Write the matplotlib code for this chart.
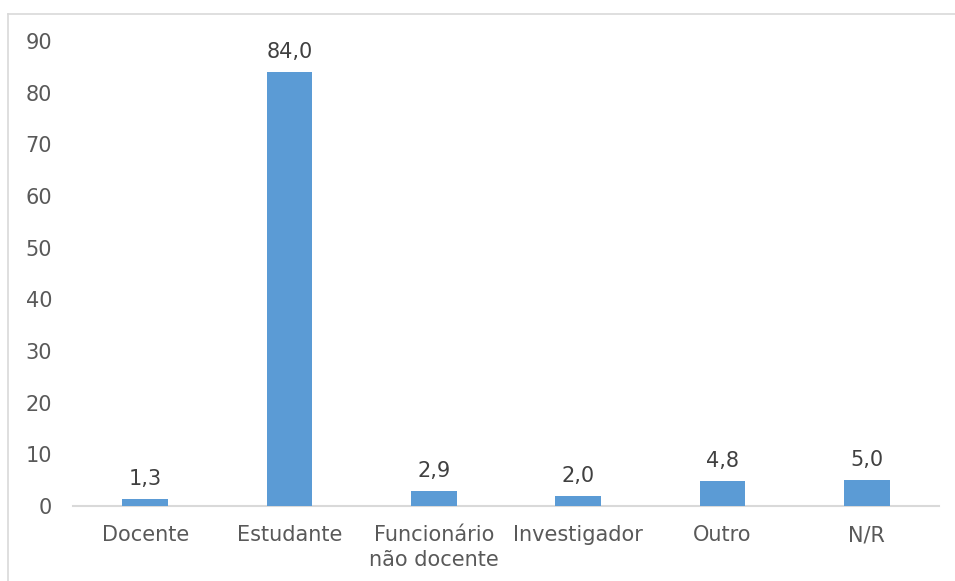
import matplotlib
matplotlib.use("Agg")
import matplotlib.pyplot as plt
from matplotlib.lines import Line2D

categories = ["Docente", "Estudante", "Funcionário\nnão docente", "Investigador", "Outro", "N/R"]
values = [1.3, 84.0, 2.9, 2.0, 4.8, 5.0]
yticks = [0, 10, 20, 30, 40, 50, 60, 70, 80, 90]

plt.rcParams['font.family'] = ['DejaVu Sans']
W, H = 955, 581
fig = plt.figure(figsize=(W / 100, H / 100), dpi=100)
text_color = "#595959"
fs = 15

# axes in pixel coordinates
x0, x1 = 73, 939
y_zero, y_top = 506, 41
ax = fig.add_axes([x0 / W, 1 - y_zero / H, (x1 - x0) / W, (y_zero - y_top) / H])

xs = list(range(len(categories)))
ax.bar(xs, values, width=0.315, color="#5B9BD5", zorder=3)
for x, v in zip(xs, values):
    ax.annotate(f"{v:.1f}".replace(".", ","), xy=(x, v), xytext=(0, 10),
                textcoords="offset points", ha="center", va="baseline",
                fontsize=fs, color="#404040")

ax.set_xlim(-0.5, len(categories) - 0.5)
ax.set_ylim(0, 90)
ax.set_yticks(yticks)
ax.set_yticklabels([str(t) for t in yticks], fontsize=fs, color=text_color)
ax.set_xticks(xs)
ax.set_xticklabels(categories, fontsize=fs, color=text_color, linespacing=1.3)
ax.tick_params(axis="both", length=0)
ax.tick_params(axis="y", pad=15)
ax.tick_params(axis="x", pad=14)
for s in ["top", "right", "left"]:
    ax.spines[s].set_visible(False)
ax.spines["bottom"].set_color("#D9D9D9")
ax.spines["bottom"].set_linewidth(1.5)
ax.set_facecolor("none")

# chart border (top and left visible)
fig.add_artist(Line2D([8 / W, 1], [1 - 13.5 / H, 1 - 13.5 / H], color="#D9D9D9", lw=1.2,
                      transform=fig.transFigure))
fig.add_artist(Line2D([8 / W, 8 / W], [1 - 13.5 / H, 0], color="#D9D9D9", lw=1.2,
                      transform=fig.transFigure))

fig.savefig("out.png", dpi=100)
